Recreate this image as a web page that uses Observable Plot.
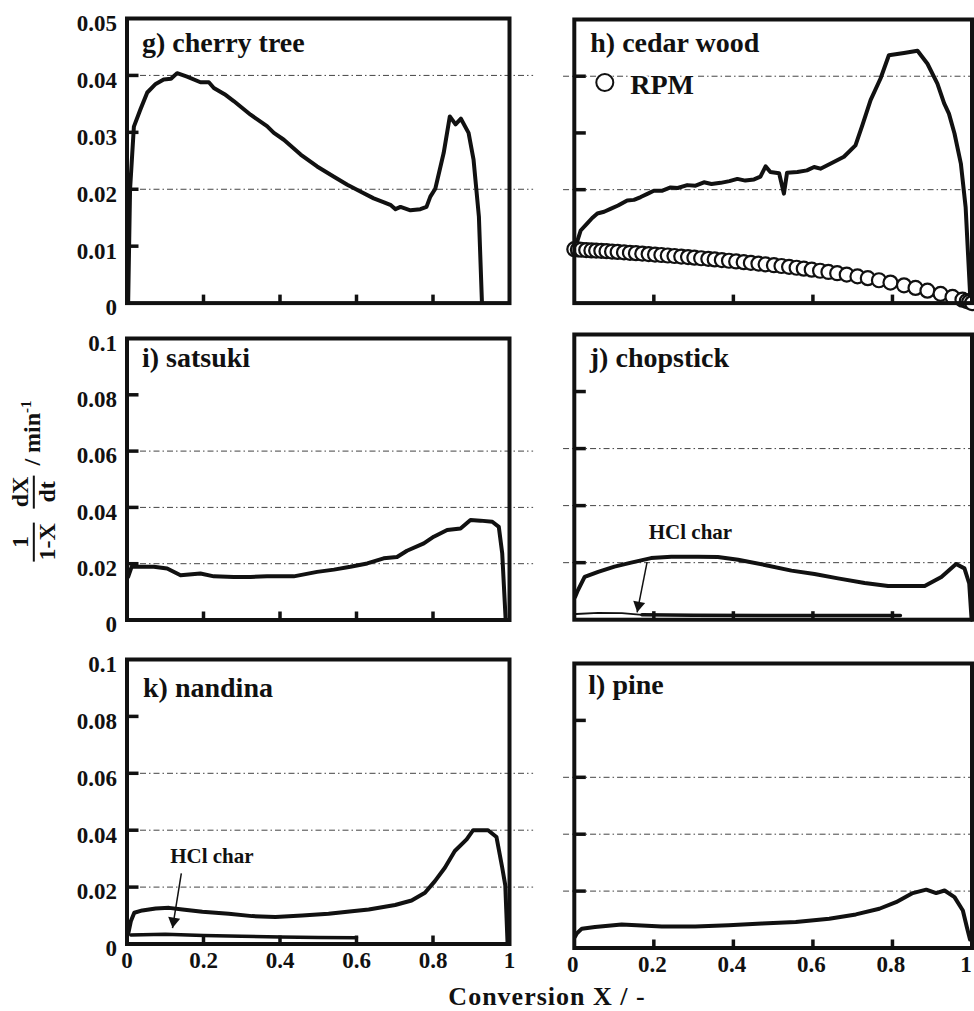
<!DOCTYPE html>
<html><head><meta charset="utf-8">
<script src="https://cdn.jsdelivr.net/npm/d3@7"></script>
<script src="https://cdn.jsdelivr.net/npm/@observablehq/plot@0.6"></script>
<style>
body{margin:0;background:#fff;}
#chart{position:relative;width:974px;height:1011px;background:#fff;font-family:"Liberation Serif","Times New Roman",serif;color:#111;overflow:hidden;}
#chart svg{position:absolute;overflow:visible;}
.ylab{position:absolute;left:34px;top:483px;transform:translate(-50%,-50%) rotate(-90deg);white-space:nowrap;font-weight:bold;font-size:24px;line-height:1;}
.frac{display:inline-block;vertical-align:middle;text-align:center;margin:0 4px;}
.frac span{display:block;line-height:1.05;padding:0 1px;}
.frac span.num{border-bottom:2px solid #111;}
.ylab sup{font-size:15px;}
.xlab{position:absolute;left:547px;top:997px;transform:translate(-50%,-50%);white-space:nowrap;font-weight:bold;font-size:26px;line-height:24px;letter-spacing:1px;}
</style></head>
<body>
<div id="chart">
  <div class="ylab"><span class="frac"><span class="num">1</span><span>1-X</span></span> <span class="frac"><span class="num">dX</span><span>dt</span></span> / min<sup>-1</sup></div>
  <div class="xlab">Conversion X / -</div>
</div>
<script>
// ---- axis ticks / labels ----
const xTicks = [0.2, 0.4, 0.6, 0.8];
const xLabels = [0, 0.2, 0.4, 0.6, 0.8, 1];
const yTicksTop = [0.01, 0.02, 0.03, 0.04];
const yLabelsTop = [0, 0.01, 0.02, 0.03, 0.04, 0.05];
const gridTop = [0.02, 0.04];
const yTicksLow = [0.02, 0.04, 0.06, 0.08];
const yLabelsLow = [0, 0.02, 0.04, 0.06, 0.08, 0.1];
const gridLow = [0.02, 0.04, 0.06];

// ---- g) cherry tree ----
const cherryX = [0.003, 0.008, 0.018, 0.035, 0.053, 0.075, 0.096, 0.115, 0.131, 0.157, 0.192, 0.214, 0.227, 0.255, 0.279, 0.323, 0.366, 0.384, 0.410, 0.454, 0.497, 0.541, 0.576, 0.610, 0.645, 0.672, 0.690, 0.702, 0.715, 0.741, 0.767, 0.783, 0.793, 0.806, 0.828, 0.844, 0.859, 0.873, 0.893, 0.906, 0.920, 0.928];
const cherryY = [0, 0.020, 0.031, 0.034, 0.037, 0.0385, 0.0393, 0.0394, 0.0404, 0.0398, 0.0388, 0.0388, 0.0378, 0.0367, 0.0355, 0.0331, 0.0311, 0.0299, 0.0287, 0.0261, 0.0240, 0.0222, 0.0208, 0.0196, 0.0184, 0.0177, 0.0172, 0.0165, 0.0169, 0.0163, 0.0165, 0.0169, 0.0187, 0.0201, 0.0264, 0.0328, 0.0314, 0.0324, 0.0299, 0.0252, 0.0152, 0];

// ---- h) cedar wood ----
const cedarX = [0.003, 0.016, 0.032, 0.045, 0.058, 0.075, 0.091, 0.110, 0.133, 0.150, 0.167, 0.185, 0.200, 0.220, 0.242, 0.260, 0.284, 0.305, 0.326, 0.345, 0.368, 0.390, 0.410, 0.430, 0.452, 0.468, 0.481, 0.493, 0.515, 0.527, 0.535, 0.561, 0.585, 0.603, 0.619, 0.645, 0.678, 0.707, 0.724, 0.745, 0.770, 0.791, 0.829, 0.863, 0.888, 0.913, 0.930, 0.942, 0.956, 0.972, 0.984, 0.996];
const cedarY = [0.0099, 0.0128, 0.0140, 0.0150, 0.0158, 0.0161, 0.0166, 0.0172, 0.0181, 0.0182, 0.0187, 0.0193, 0.0198, 0.0198, 0.0204, 0.0203, 0.0208, 0.0207, 0.0213, 0.0210, 0.0212, 0.0215, 0.0219, 0.0216, 0.0218, 0.0223, 0.0241, 0.0231, 0.0229, 0.0193, 0.0230, 0.0231, 0.0234, 0.0240, 0.0237, 0.0246, 0.0258, 0.0278, 0.0313, 0.0358, 0.0396, 0.0437, 0.0441, 0.0445, 0.0422, 0.0387, 0.0352, 0.0334, 0.0299, 0.0246, 0.0169, 0.0005];
// RPM model points (cedar wood)
const rpmX = [0.000, 0.009, 0.018, 0.030, 0.043, 0.055, 0.068, 0.081, 0.095, 0.109, 0.125, 0.140, 0.155, 0.171, 0.187, 0.203, 0.219, 0.235, 0.252, 0.269, 0.286, 0.302, 0.319, 0.337, 0.353, 0.371, 0.389, 0.407, 0.426, 0.444, 0.463, 0.481, 0.502, 0.521, 0.540, 0.559, 0.577, 0.597, 0.618, 0.639, 0.661, 0.685, 0.712, 0.738, 0.766, 0.795, 0.829, 0.858, 0.888, 0.921, 0.951, 0.976, 0.987, 0.993, 1.000];
const rpmY = [0.00951, 0.00946, 0.00941, 0.00935, 0.00929, 0.00926, 0.00922, 0.00915, 0.00909, 0.00902, 0.00895, 0.00887, 0.00880, 0.00873, 0.00864, 0.00856, 0.00848, 0.00839, 0.00830, 0.00821, 0.00811, 0.00801, 0.00791, 0.00780, 0.00770, 0.00759, 0.00747, 0.00734, 0.00722, 0.00709, 0.00696, 0.00683, 0.00668, 0.00654, 0.00639, 0.00623, 0.00607, 0.00589, 0.00570, 0.00549, 0.00527, 0.00502, 0.00471, 0.00439, 0.00403, 0.00362, 0.00313, 0.00268, 0.00219, 0.00163, 0.00108, 0.00060, 0.00037, 0.00022, 0];

// ---- i) satsuki ----
const satsukiX = [0.003, 0.012, 0.025, 0.070, 0.105, 0.140, 0.192, 0.227, 0.279, 0.323, 0.366, 0.436, 0.497, 0.541, 0.584, 0.628, 0.671, 0.706, 0.732, 0.776, 0.802, 0.837, 0.872, 0.898, 0.924, 0.955, 0.972, 0.981, 0.990];
const satsukiY = [0.0153, 0.0189, 0.0189, 0.0189, 0.0183, 0.0159, 0.0165, 0.0155, 0.0153, 0.0153, 0.0155, 0.0155, 0.0171, 0.0179, 0.0189, 0.0201, 0.0219, 0.0224, 0.0246, 0.0272, 0.0296, 0.0320, 0.0325, 0.0355, 0.0353, 0.0349, 0.0331, 0.0236, 0];

// ---- j) chopstick ----
const chopX = [0.002, 0.009, 0.026, 0.060, 0.101, 0.143, 0.193, 0.244, 0.311, 0.361, 0.412, 0.479, 0.546, 0.604, 0.663, 0.730, 0.789, 0.881, 0.923, 0.960, 0.981, 0.993, 0.999];
const chopY = [0.0080, 0.0103, 0.0150, 0.0168, 0.0186, 0.0200, 0.0216, 0.0221, 0.0221, 0.0220, 0.0210, 0.0192, 0.0172, 0.0160, 0.0145, 0.0129, 0.0118, 0.0118, 0.0150, 0.0195, 0.0180, 0.0127, 0];
const chopHclX = [0.005, 0.06, 0.12, 0.17, 0.30, 0.50, 0.70, 0.82];
const chopHclY = [0.0020, 0.0024, 0.0023, 0.0017, 0.0016, 0.0015, 0.0015, 0.0015];

// ---- k) nandina ----
const nandinaX = [0.003, 0.010, 0.019, 0.040, 0.075, 0.110, 0.145, 0.197, 0.266, 0.327, 0.388, 0.458, 0.527, 0.588, 0.632, 0.701, 0.744, 0.779, 0.805, 0.831, 0.857, 0.888, 0.905, 0.944, 0.966, 0.981, 0.989, 0.995];
const nandinaY = [0.0035, 0.0080, 0.0110, 0.0118, 0.0125, 0.0127, 0.0121, 0.0113, 0.0106, 0.0098, 0.0095, 0.0100, 0.0106, 0.0115, 0.0121, 0.0137, 0.0153, 0.0180, 0.0221, 0.0268, 0.0327, 0.0368, 0.0400, 0.0400, 0.0376, 0.0268, 0.0206, 0];
const nandinaHclX = [0.01, 0.10, 0.20, 0.30, 0.40, 0.50, 0.60];
const nandinaHclY = [0.0032, 0.0034, 0.0030, 0.0027, 0.0025, 0.0023, 0.0022];

// ---- l) pine ----
const pineX = [0.002, 0.006, 0.019, 0.052, 0.119, 0.220, 0.304, 0.388, 0.472, 0.557, 0.641, 0.708, 0.767, 0.809, 0.851, 0.885, 0.910, 0.931, 0.956, 0.977, 0.987, 0.995];
const pineY = [0.0040, 0.0051, 0.0068, 0.0074, 0.0083, 0.0076, 0.0076, 0.0080, 0.0086, 0.0091, 0.0103, 0.0118, 0.0138, 0.0161, 0.0193, 0.0205, 0.0193, 0.0202, 0.0179, 0.0132, 0.0074, 0.0030];

// ---- annotations ("HCl char" labels and arrows) ----
const hclLabel = "HCl char";
const hclJ = {tx: [0.292], ty: [0.0282], x1: [0.183], y1: [0.0202], x2: [0.158], y2: [0.0026]};
const hclK = {tx: [0.222], ty: [0.0284], x1: [0.142], y1: [0.0248], x2: [0.119], y2: [0.0056]};

const FONT = '"Liberation Serif", "Times New Roman", serif';
const INK = "#111";

function zip(xs, ys) { return xs.map((v, i) => ({x: v, y: ys[i]})); }

function panel(o) {
  const L = o.side === "L";
  const width = L ? 540 : 434;
  const mL = L ? 126.5 : 33.8;
  const mR = L ? 31 : 2.5;
  const plotW = width - mL - mR;
  const plotH = o.height - o.mTop - o.mBottom;
  const marks = [
    Plot.ruleY(o.grid, {y: d => d, x1: L ? 0 : -0.027, x2: L ? 1.063 : 1, stroke: "#444", strokeWidth: 1, strokeDasharray: "6,3,1.5,3"}),
    Plot.tickY(o.yTicks, {y: d => d, insetRight: plotW - 12, strokeWidth: 3.5, stroke: INK}),
    Plot.tickX(xTicks, {x: d => d, insetTop: plotH - 8, strokeWidth: 3.5, stroke: INK})
  ];
  if (o.hclX) {
    const rows = zip(o.hclX, o.hclY);
    marks.push(Plot.line(rows, {x: "x", y: "y", stroke: INK, strokeWidth: 1.8}));
    marks.push(Plot.line(rows, {x: "x", y: "y", filter: d => d.x >= o.hclThickFrom, stroke: INK, strokeWidth: 3.5}));
  }
  if (o.ann) {
    const a = o.ann;
    marks.push(Plot.link(a.x1, {x1: a.x1, y1: a.y1, x2: a.x2, y2: a.y2, stroke: INK, strokeWidth: 1.5}));
    marks.push(Plot.dot(a.x2, {x: a.x2, y: a.y2, symbol: "triangle", r: 4.5, fill: INK, stroke: "none", rotate: o.annRotate, dx: o.annDx, dy: -6.9}));
    marks.push(Plot.text([hclLabel], {x: a.tx, y: a.ty, text: d => d, fontSize: 21, fontWeight: "bold", lineAnchor: "bottom", fill: INK}));
  }
  marks.push(Plot.line(zip(o.x, o.y), {x: "x", y: "y", stroke: INK, strokeWidth: 4, strokeLinejoin: "round"}));
  if (o.rpmX) {
    marks.push(Plot.dot(zip(o.rpmX, o.rpmY), {x: "x", y: "y", r: 7, stroke: INK, strokeWidth: 2.2, fill: "white"}));
    marks.push(Plot.dot(["RPM"], {frameAnchor: "top-left", dx: 30.5, dy: 63, r: 8.5, stroke: INK, strokeWidth: 2, fill: "white"}));
    marks.push(Plot.text(["RPM"], {frameAnchor: "top-left", dx: 56, dy: 74, text: d => d, textAnchor: "start", lineAnchor: "bottom", fontSize: 28, fontWeight: "bold", fill: INK, stroke: "white", strokeWidth: 4}));
  }
  marks.push(Plot.frame({stroke: INK, strokeWidth: 4}));
  marks.push(Plot.text([o.title], {frameAnchor: "top-left", dx: o.tdx, dy: o.tdy, text: d => d, textAnchor: "start", lineAnchor: "bottom", fontSize: 28, fontWeight: "bold", fill: INK}));
  if (o.yLabels) {
    marks.push(Plot.axisY(o.yLabels, {tickSize: 0, tickPadding: 10, fontSize: 23, fontWeight: "bold", dy: 5, tickFormat: d => String(d), label: null, fill: INK}));
  }
  if (o.xLabels) {
    // the last label of a right-hand panel sits at the picture's edge: keep it inside
    marks.push(Plot.axisX(o.xLabels, {tickSize: 0, tickPadding: 8, fontSize: 23, fontWeight: "bold", tickFormat: d => String(d), label: null, fill: INK, dx: L ? 0 : -1.5, filter: d => L || d < 1}));
    if (!L) {
      marks.push(Plot.axisX(o.xLabels, {tickSize: 0, tickPadding: 8, fontSize: 23, fontWeight: "bold", tickFormat: d => String(d), label: null, fill: INK, dx: -6, filter: d => d === 1}));
    }
  }
  const svg = Plot.plot({
    width, height: o.height,
    marginLeft: mL, marginRight: mR, marginTop: o.mTop, marginBottom: o.mBottom,
    x: {domain: [0, 1], axis: o.xLabels ? undefined : null},
    y: {domain: o.yDomain, axis: o.yLabels ? undefined : null},
    style: {fontFamily: FONT, background: "transparent", overflow: "visible", color: INK},
    marks
  });
  svg.style.position = "absolute";
  svg.style.left = (L ? 0 : 540) + "px";
  svg.style.top = o.top + "px";
  document.getElementById("chart").appendChild(svg);
}

panel({side: "L", top: 0, height: 320, mTop: 18, mBottom: 17.4, yDomain: [0, 0.05], grid: gridTop, yTicks: yTicksTop, yLabels: yLabelsTop,
  x: cherryX, y: cherryY, title: "g) cherry tree", tdx: 15, tdy: 33.7});
panel({side: "R", top: 0, height: 320, mTop: 19, mBottom: 17.4, yDomain: [0, 0.05], grid: gridTop, yTicks: yTicksTop,
  x: cedarX, y: cedarY, rpmX, rpmY, title: "h) cedar wood", tdx: 16, tdy: 32.7});
panel({side: "L", top: 320, height: 320, mTop: 18, mBottom: 20.5, yDomain: [0, 0.1], grid: gridLow, yTicks: yTicksLow, yLabels: yLabelsLow,
  x: satsukiX, y: satsukiY, title: "i) satsuki", tdx: 15, tdy: 28.7});
panel({side: "R", top: 320, height: 320, mTop: 14, mBottom: 20.8, yDomain: [0, 0.1], grid: gridLow, yTicks: yTicksLow,
  x: chopX, y: chopY, hclX: chopHclX, hclY: chopHclY, hclThickFrom: 0.17, ann: hclJ, annRotate: 191, annDx: 1.4, title: "j) chopstick", tdx: 15.5, tdy: 32.7});
panel({side: "L", top: 640, height: 371, mTop: 19, mBottom: 67.5, yDomain: [0, 0.1], grid: gridLow, yTicks: yTicksLow, yLabels: yLabelsLow, xLabels,
  x: nandinaX, y: nandinaY, hclX: nandinaHclX, hclY: nandinaHclY, hclThickFrom: 0.0, ann: hclK, annRotate: 189, annDx: 1.1, title: "k) nandina", tdx: 16, tdy: 37});
panel({side: "R", top: 640, height: 371, mTop: 23, mBottom: 63.5, yDomain: [0, 0.1], grid: gridLow, yTicks: yTicksLow, xLabels,
  x: pineX, y: pineY, title: "l) pine", tdx: 14, tdy: 30.3});
</script>
</body></html>
